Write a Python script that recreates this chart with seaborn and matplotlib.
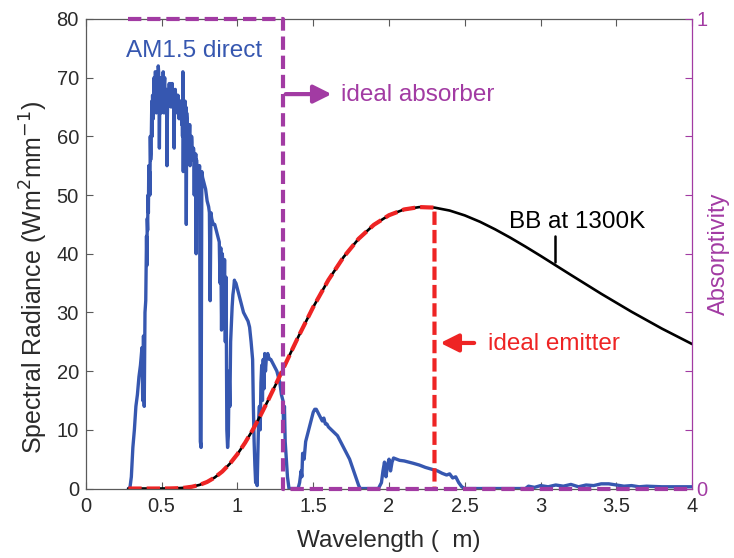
import numpy as np
import pandas as pd
import matplotlib
matplotlib.use("Agg")
import matplotlib.pyplot as plt
import seaborn as sns

# ---------------- data ----------------
# AM1.5 direct spectrum, UV edge
am_wl_uv = [0.28, 0.29, 0.30, 0.31, 0.32, 0.33, 0.34, 0.35, 0.36, 0.37, 0.375, 0.38, 0.385, 0.39, 0.395]
am_val_uv = [0, 0, 2, 7, 10, 14, 16, 19, 21, 24, 15, 26, 14, 30, 32]

# visible part, every 0.0025 um from 0.40 to 0.75
am_vis_start = 0.40
am_vis_step = 0.0025
am_val_vis = [43, 38, 46, 44, 50, 47, 55, 52, 54, 50,
              60, 56, 57, 62, 66, 60, 67, 64, 63, 68,
              70, 66, 68, 71, 71, 69, 64, 70, 70, 65,
              69, 72, 71, 67, 58, 66, 68, 70, 70, 64,
              66, 70, 69, 65, 71, 68, 64, 69, 70, 66,
              67, 64, 68, 66, 55, 63, 67, 65, 68, 66,
              69, 66, 68, 67, 69, 65, 68, 67, 69, 66,
              68, 67, 66, 58, 66, 67, 68, 66, 67, 65,
              67, 64, 66, 67, 65, 66, 63, 66, 65, 66,
              66, 64, 65, 62, 66, 60, 71, 54, 65, 64,
              65, 62, 66, 64, 65, 45, 64, 63, 62, 61,
              62, 60, 61, 59, 62, 55, 60, 59, 58, 60,
              59, 57, 58, 56, 58, 57, 50, 57, 56, 55,
              57, 40, 56, 54, 55, 53, 55, 52, 54, 53,
              55]

# near infrared and beyond
am_wl_ir = [0.755, 0.76, 0.765, 0.77, 0.78, 0.79, 0.80, 0.81, 0.815, 0.82, 0.825, 0.83, 0.84, 0.85, 0.86,
            0.87, 0.88, 0.885, 0.89, 0.895, 0.90, 0.905, 0.91, 0.915, 0.92, 0.925, 0.93, 0.935, 0.94,
            0.945, 0.95, 0.955, 0.96, 0.965, 0.97, 0.975, 0.98, 0.985, 0.99, 1.00, 1.01, 1.02, 1.03,
            1.04, 1.05, 1.06, 1.07, 1.08, 1.09, 1.10, 1.105, 1.11, 1.115, 1.12, 1.125, 1.13, 1.135,
            1.14, 1.145, 1.15, 1.155, 1.16, 1.165, 1.17, 1.175, 1.18, 1.185, 1.19, 1.20, 1.21, 1.22,
            1.23, 1.24, 1.25, 1.26, 1.27, 1.28, 1.29,
            1.30, 1.305, 1.31, 1.315, 1.32, 1.33, 1.34, 1.40, 1.41, 1.42, 1.425, 1.43, 1.44, 1.45, 1.46, 1.47,
            1.48, 1.49, 1.50, 1.51, 1.52, 1.53, 1.54, 1.55, 1.56, 1.57, 1.58, 1.59, 1.60, 1.62, 1.64,
            1.66, 1.68, 1.70, 1.72, 1.74, 1.76, 1.78, 1.80, 1.81, 1.93, 1.95, 1.96, 1.97, 1.98, 1.99,
            2.00, 2.01, 2.02, 2.03, 2.05, 2.07, 2.10, 2.13, 2.16, 2.20, 2.24, 2.28, 2.32, 2.35, 2.38,
            2.40, 2.42, 2.44, 2.46, 2.48, 2.50, 2.90, 2.92, 2.96, 3.00, 3.05, 3.10, 3.15, 3.20, 3.25,
            3.30, 3.35, 3.40, 3.45, 3.50, 3.55, 3.60, 3.65, 3.70, 3.80, 3.90, 4.00]
am_val_ir = [8, 7, 54, 53, 52, 51, 49, 48, 47, 32, 47, 46, 45, 45, 44,
             43, 42, 35, 41, 27, 40, 38, 30, 39, 25, 36, 10, 7, 9,
             20, 14, 25, 28, 31, 33, 34, 35.5, 35, 35, 34, 33, 32, 31,
             30, 29.5, 29, 28.5, 27.5, 25, 22, 14, 8, 4, 1, 3, 0.5, 6,
             12, 14, 10, 18, 21, 15, 22, 17, 23, 20, 22, 23, 22, 22,
             21.5, 21, 20.5, 20, 19, 18, 16,
             15, 10, 14, 8, 6, 2, 0, 0, 1, 3, 2, 6, 5, 8, 9, 10,
             11, 12, 13, 13.5, 13.5, 13, 12.5, 12, 11.5, 12, 11, 11, 10.5, 10, 9.5,
             9, 8, 7, 6, 5, 3.5, 2, 0.5, 0, 0, 1, 3, 4.5, 2, 4,
             5, 3, 4.5, 5.2, 5, 4.8, 4.7, 4.5, 4.3, 4.0, 3.6, 3.3, 3.0, 2.6, 2.3,
             2.5, 1.8, 2.0, 1.0, 0.3, 0, 0, 0.4, 0.2, 0.5, 0.3, 0.6, 0.4, 0.7, 0.3,
             0.6, 0.5, 0.8, 0.8, 0.6, 0.4, 0.5, 0.3, 0.4, 0.3, 0.3, 0.3]

# blackbody at 1300 K
bb_wl = [0.28, 0.4, 0.5, 0.55, 0.6, 0.65, 0.7, 0.75, 0.8, 0.85, 0.9, 0.95, 1.0, 1.05, 1.1, 1.15,
         1.2, 1.25, 1.3, 1.35, 1.4, 1.5, 1.6, 1.7, 1.8, 1.9, 2.0, 2.1, 2.2, 2.3, 2.4, 2.5, 2.6,
         2.7, 2.8, 2.9, 3.0, 3.2, 3.4, 3.6, 3.8, 4.0]
bb_val = [0.0, 0.0, 0.003, 0.014, 0.047, 0.130, 0.304, 0.617, 1.125, 1.875, 2.903, 4.230, 5.864,
          7.782, 9.957, 12.35, 14.91, 17.58, 20.32, 23.06, 25.77, 30.92, 35.53, 39.43, 42.57, 44.93,
          46.57, 47.55, 47.95, 47.86, 47.36, 46.53, 45.45, 44.16, 42.74, 41.22, 39.64, 36.39, 33.18,
          30.12, 27.25, 24.61]

emitter_cutoff = 2.3
absorber_wl = [0.28, 1.30, 1.30, 4.0]
absorber_val = [1, 1, 0, 0]

x_ticks = [0, 0.5, 1, 1.5, 2, 2.5, 3, 3.5, 4]
x_tick_labels = ["0", "0.5", "1", "1.5", "2", "2.5", "3", "3.5", "4"]
y_ticks = [0, 10, 20, 30, 40, 50, 60, 70, 80]

# ---------------- style ----------------
sns.set_theme(style="ticks")
plt.rcParams["font.family"] = ["Liberation Sans", "DejaVu Sans"]

BLUE = "#3657b0"
RED = "#ee2424"
PURPLE = "#a23ba3"
AXC = "#5a5a5a"
TXT = "#2a2a2a"

fig = plt.figure(figsize=(7.34, 5.58), dpi=100)
ax = fig.add_axes([0.117, 0.1245, 0.826, 0.8415])

am_vis_wl = [round(am_vis_start + i * am_vis_step, 4) for i in range(len(am_val_vis))]
am_df = pd.DataFrame({"wl": am_wl_uv + am_vis_wl + am_wl_ir,
                      "val": am_val_uv + am_val_vis + am_val_ir})
bb_df = pd.DataFrame({"wl": bb_wl, "val": bb_val})
em_wl = [w for w in bb_wl if w <= emitter_cutoff] + [emitter_cutoff]
em_val = [v for w, v in zip(bb_wl, bb_val) if w <= emitter_cutoff] + [0.0]
em_df = pd.DataFrame({"wl": em_wl, "val": em_val})
ab_df = pd.DataFrame({"wl": absorber_wl, "val": absorber_val})

sns.lineplot(data=am_df, x="wl", y="val", ax=ax, color=BLUE, lw=2.4,
             estimator=None, sort=False)
sns.lineplot(data=bb_df, x="wl", y="val", ax=ax, color="black", lw=1.9,
             estimator=None, sort=False)
sns.lineplot(data=em_df, x="wl", y="val", ax=ax, color=RED, lw=3.0,
             estimator=None, sort=False)
ax.lines[-1].set_dashes([3.2, 1.2])

ax.set_xlim(0, 4)
ax.set_ylim(0, 80)
ax.set_xticks(x_ticks)
ax.set_xticklabels(x_tick_labels)
ax.set_yticks(y_ticks)
ax.tick_params(axis="both", direction="in", length=5, width=0.8, colors=AXC,
               labelcolor=TXT, labelsize=14.5, top=True, pad=6)
ax.tick_params(axis="y", right=False, pad=5)
for s in ["left", "bottom", "top"]:
    ax.spines[s].set_color(AXC)
    ax.spines[s].set_linewidth(0.9)
ax.spines["right"].set_visible(False)
ax.set_xlabel("Wavelength (  m)", fontsize=17.5, color=TXT, labelpad=10)
ax.set_ylabel("Spectral Radiance (Wm$^{2}$mm$^{-1}$)", fontsize=18, color=TXT)
ax.yaxis.set_label_coords(-0.06, 0.45)

ax2 = ax.twinx()
sns.lineplot(data=ab_df, x="wl", y="val", ax=ax2, color=PURPLE, lw=3.0,
             estimator=None, sort=False, clip_on=False)
ax2.lines[-1].set_dashes([3.2, 1.4])
ax2.set_ylim(0, 1)
ax2.set_yticks(np.arange(0, 1.0001, 0.125))
ax2.set_yticklabels(["0", "", "", "", "", "", "", "", "1"])
ax2.tick_params(axis="y", direction="in", length=5, width=0.8, colors=PURPLE,
                labelcolor=PURPLE, labelsize=14.5, pad=3)
for s in ["left", "bottom", "top"]:
    ax2.spines[s].set_visible(False)
ax2.spines["right"].set_color(PURPLE)
ax2.spines["right"].set_linewidth(0.9)
ax2.set_ylabel("Absorptivity", fontsize=17, color=PURPLE, labelpad=0)
ax2.set_xlim(0, 4)

# annotations
ax.text(0.265, 74.5, "AM1.5 direct", color=BLUE, fontsize=17.5, va="center", ha="left")
ax.annotate("", xy=(1.64, 67.2), xytext=(1.30, 67.2),
            arrowprops=dict(arrowstyle="-|>,head_length=0.9,head_width=0.45", color=PURPLE, lw=3))
ax.text(1.68, 67.0, "ideal absorber", color=PURPLE, fontsize=17.5, va="center", ha="left")
ax.annotate("", xy=(2.32, 24.8), xytext=(2.58, 24.8),
            arrowprops=dict(arrowstyle="-|>,head_length=0.9,head_width=0.45", color=RED, lw=3))
ax.text(2.65, 24.6, "ideal emitter", color=RED, fontsize=17.5, va="center", ha="left")
ax.text(2.79, 45.4, "BB at 1300K", color="black", fontsize=17.5, va="center", ha="left")
ax.plot([3.095, 3.095], [43.0, 38.6], color="black", lw=1.8)

fig.savefig("out.png", dpi=100)
